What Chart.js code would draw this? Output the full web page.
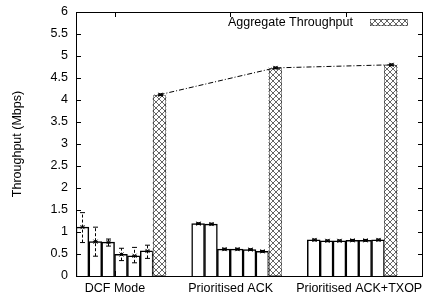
<!DOCTYPE html>
<html>
<head>
<meta charset="utf-8">
<script src="https://cdn.jsdelivr.net/npm/chart.js@4/dist/chart.umd.min.js"></script>
<style>
  html, body { margin: 0; padding: 0; background: #fff; }
  #wrap { width: 425px; height: 296px; }
</style>
</head>
<body>
<div id="wrap"><canvas id="chart"></canvas></div>
<script>
const groups = ['DCF Mode', 'Prioritised ACK', 'Prioritised ACK+TXOP']
// per-flow throughput, 6 flows in each mode
const flowThroughput = [
    [1.11, 0.78, 0.77, 0.49, 0.46, 0.57],
    [1.19, 1.18, 0.61, 0.61, 0.60, 0.56],
    [0.82, 0.80, 0.80, 0.81, 0.81, 0.82]
]
const flowErrLow = [
    [0.76, 0.45, 0.68, 0.35, 0.30, 0.40],
    [1.17, 1.16, 0.59, 0.59, 0.58, 0.54],
    [0.80, 0.78, 0.78, 0.79, 0.79, 0.80]
]
const flowErrHigh = [
    [1.44, 1.11, 0.84, 0.63, 0.65, 0.70],
    [1.21, 1.20, 0.63, 0.63, 0.62, 0.58],
    [0.84, 0.82, 0.82, 0.83, 0.83, 0.84]
]
const aggregate = [4.12, 4.73, 4.80]
const aggErrLow = [4.10, 4.71, 4.78]
const aggErrHigh = [4.14, 4.75, 4.82]
const legendLabel = 'Aggregate Throughput'
const yTitle = 'Throughput (Mbps)'
const yMax = 6
const yStep = 0.5
const groupTickSlot = [3, 12, 21]
const groupLabelSlot = [3, 12, 22]

const slotsPerGroup = 9
const nSlots = 27
const FONT = "'Liberation Sans', Arial, sans-serif"

// build slot arrays for the category axis
var slotLabels = []
var flowData = []
var aggData = []
var errors = []
for (let i = 0; i < nSlots; i++) {
    slotLabels.push('')
    flowData.push(null)
    aggData.push(null)
}
groups.forEach((g, gi) => {
    slotLabels[groupLabelSlot[gi]] = g
    flowThroughput[gi].forEach((v, fi) => {
        let s = gi * slotsPerGroup + fi
        flowData[s] = v
        errors.push({ slot: s, v: v, lo: flowErrLow[gi][fi], hi: flowErrHigh[gi][fi], dashed: gi == 0 })
    })
    let s = gi * slotsPerGroup + 6
    aggData[s] = aggregate[gi]
    errors.push({ slot: s, v: aggregate[gi], lo: aggErrLow[gi], hi: aggErrHigh[gi], dashed: false })
})

function makeHatch() {
    const c = document.createElement('canvas')
    c.width = 6
    c.height = 6
    const g = c.getContext('2d')
    g.fillStyle = '#fff'
    g.fillRect(0, 0, 6, 6)
    g.fillStyle = '#666'
    for (let i = 0; i < 6; i++) {
        g.fillRect(i, i, 1, 1)
        g.fillRect(5 - i, i, 1, 1)
    }
    return g.createPattern(c, 'repeat')
}
const hatch = makeHatch()

const framePlugin = {
    id: 'frame',
    afterDatasetsDraw(chart) {
        const c = chart.ctx
        const a = chart.chartArea
        const x = chart.scales.x
        const y = chart.scales.y
        c.save()

        // dotted outline of hatched bars
        const aggMeta = chart.getDatasetMeta(1)
        c.strokeStyle = '#222'
        c.lineWidth = 1
        c.setLineDash([1, 1])
        aggMeta.data.forEach((bar, i) => {
            if (aggData[i] == null) return
            const p = bar.getProps(['x', 'y', 'base', 'width'], true)
            c.strokeRect(Math.round(p.x - p.width / 2) + 0.5, Math.round(p.y) + 0.5, Math.round(p.width) - 1, Math.round(p.base - p.y) - 1)
        })

        // error bars and markers
        c.strokeStyle = '#000'
        errors.forEach(e => {
            const px = Math.round(x.getPixelForValue(e.slot)) + 0.5
            const lo = y.getPixelForValue(e.lo)
            const hi = y.getPixelForValue(e.hi)
            const py = y.getPixelForValue(e.v)
            c.setLineDash(e.dashed ? [3, 2] : [])
            c.beginPath()
            c.moveTo(px, lo)
            c.lineTo(px, hi)
            c.stroke()
            c.setLineDash([])
            c.beginPath()
            c.moveTo(px - 2.5, lo); c.lineTo(px + 2.5, lo)
            c.moveTo(px - 2.5, hi); c.lineTo(px + 2.5, hi)
            c.moveTo(px - 2, py - 2); c.lineTo(px + 2, py + 2)
            c.moveTo(px - 2, py + 2); c.lineTo(px + 2, py - 2)
            c.moveTo(px - 2.5, py); c.lineTo(px + 2.5, py)
            c.stroke()
        })

        // frame
        c.strokeStyle = '#000'
        c.lineWidth = 1
        c.strokeRect(Math.round(a.left) + 0.5, Math.round(a.top) + 0.5, Math.round(a.right - a.left) - 1, Math.round(a.bottom - a.top))

        // inward ticks
        c.beginPath()
        for (let v = 0; v <= yMax + 0.001; v += yStep) {
            const py = Math.round(y.getPixelForValue(v)) + 0.5
            c.moveTo(a.left, py); c.lineTo(a.left + 5, py)
            c.moveTo(a.right, py); c.lineTo(a.right - 5, py)
        }
        groupTickSlot.forEach(v => {
            const px = Math.round(x.getPixelForValue(v - 0.5)) + 0.5
            c.moveTo(px, a.top); c.lineTo(px, a.top + 5)
            c.moveTo(px, a.bottom); c.lineTo(px, a.bottom - 5)
        })
        c.stroke()

        // legend
        c.font = '12.5px ' + FONT
        c.fillStyle = '#000'
        c.textAlign = 'right'
        c.textBaseline = 'middle'
        c.fillText(legendLabel, 353, 23)
        c.fillStyle = hatch
        c.fillRect(370, 19, 38, 7)
        c.strokeStyle = '#222'
        c.setLineDash([1, 1])
        c.strokeRect(370.5, 19.5, 37, 6)
        c.restore()
    }
}

const ctx = document.getElementById('chart')
var MyChart = new Chart(ctx, {
    type: 'bar',
    data: {
        labels: slotLabels,
        datasets: [
            {
                label: 'flows',
                data: flowData,
                backgroundColor: '#fff',
                borderColor: '#000',
                borderWidth: 1.5,
                categoryPercentage: 1,
                barPercentage: 1,
                grouped: false,
                order: 2
            },
            {
                label: legendLabel,
                data: aggData,
                backgroundColor: hatch,
                borderWidth: 0,
                categoryPercentage: 1,
                barPercentage: 1,
                grouped: false,
                order: 1
            },
            {
                type: 'line',
                label: 'aggLine',
                data: aggData,
                borderColor: '#000',
                borderWidth: 1,
                borderDash: [5, 2, 1, 2],
                pointRadius: 0,
                spanGaps: true,
                order: 0
            }
        ]
    },
    options: {
        responsive: true,
        maintainAspectRatio: false,
        animation: false,
        events: [],
        layout: { padding: { top: 12, right: 2, left: 0, bottom: 0 } },
        plugins: {
            legend: { display: false },
            tooltip: { enabled: false }
        },
        scales: {
            x: {
                type: 'category',
                afterFit: s => { s.height = 20 },
                grid: { display: false, drawTicks: false },
                border: { display: false },
                ticks: {
                    autoSkip: false,
                    maxRotation: 0,
                    padding: 5,
                    labelOffset: -6,
                    color: '#000',
                    font: { family: FONT, size: 12.5 }
                }
            },
            y: {
                min: 0,
                max: yMax,
                afterFit: s => {
                    s.width = 76
                    s.paddingTop = 0
                    s.paddingBottom = 0
                },
                grid: { display: false, drawTicks: false },
                border: { display: false },
                ticks: {
                    stepSize: yStep,
                    padding: 8,
                    color: '#000',
                    font: { family: FONT, size: 12.5 },
                    callback: value => String(value)
                },
                title: {
                    display: true,
                    text: yTitle,
                    color: '#000',
                    font: { family: FONT, size: 12.5 },
                    padding: { top: 10, bottom: 0 }
                }
            }
        }
    },
    plugins: [framePlugin]
})
</script>
</body>
</html>
